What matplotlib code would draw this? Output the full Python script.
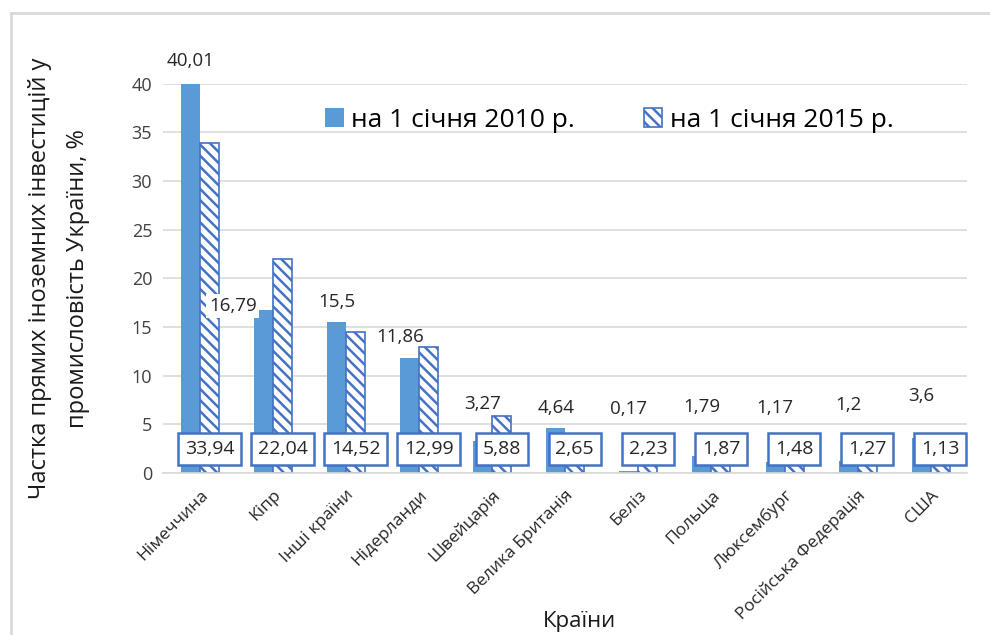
import numpy as np
import matplotlib.pyplot as plt
from matplotlib.lines import Line2D

plt.rcParams['font.family'] = ['Open Sans', 'DejaVu Sans']
plt.rcParams['hatch.linewidth'] = 1.8

countries = ['Німеччина', 'Кіпр', 'Інші країни', 'Нідерланди', 'Швейцарія',
             'Велика Британія', 'Беліз', 'Польща', 'Люксембург',
             'Російська Федерація', 'США']
share_2010 = [40.01, 16.79, 15.5, 11.86, 3.27, 4.64, 0.17, 1.79, 1.17, 1.2, 3.6]
share_2015 = [33.94, 22.04, 14.52, 12.99, 5.88, 2.65, 2.23, 1.87, 1.48, 1.27, 1.13]
yticks = [0, 5, 10, 15, 20, 25, 30, 35, 40]

# where Excel dropped the 2010 labels (y in data units, x shift in category units)
lbl10_y = [42.3, 17.2, 17.6, 14.0, 7.1, 6.7, 6.6, 6.8, 6.7, 7.0, 7.9]
lbl10_dx = [0, -0.42, 0, -0.13, 0, 0, 0, 0, 0, 0, 0]
lbl15_y = 2.45

blue = '#5B9BD5'
edge = '#4472C4'
w = 0.26

fig = plt.figure(figsize=(9.9, 6.35), dpi=100)
ax = fig.add_axes([0.165, 0.255, 0.812, 0.613])

x = np.arange(len(countries))
ax.bar(x - w / 2, share_2010, w, color=blue, label='на 1 січня 2010 р.', zorder=2)
ax.bar(x + w / 2, share_2015, w, color='white', edgecolor=edge, hatch='\\\\\\',
       linewidth=1.2, label='на 1 січня 2015 р.', zorder=2)

for i in range(len(countries)):
    txt = f'{share_2010[i]:g}'.replace('.', ',')
    bb = None
    if i == 1:
        bb = dict(boxstyle='square,pad=0.15', fc='white', ec='none')
    ax.text(x[i] - w / 2 + lbl10_dx[i], lbl10_y[i], txt, ha='center', va='center',
            fontsize=13.5, color='#262626', bbox=bb, zorder=4, clip_on=False)
    txt = f'{share_2015[i]:.2f}'.replace('.', ',')
    ax.text(x[i] + w / 2, lbl15_y, txt, ha='center', va='center', fontsize=14,
            color='#262626', zorder=4,
            bbox=dict(boxstyle='square,pad=0.35', fc='white', ec=edge, lw=1.8))

ax.set_xlim(-0.5, len(countries) - 0.5)
ax.set_ylim(0, 40)
ax.set_yticks(yticks)
ax.set_yticklabels([str(t) for t in yticks], fontsize=13, color='#404040')
ax.set_xticks(x)
ax.set_xticklabels(countries, rotation=45, ha='right', rotation_mode='anchor',
                   fontsize=12.5, color='#262626')
ax.tick_params(length=0, pad=8)
ax.tick_params(axis='x', pad=10)
ax.grid(axis='y', color='#D9D9D9', linewidth=1.2, zorder=0)
ax.set_axisbelow(True)
for s in ['top', 'right', 'left']:
    ax.spines[s].set_visible(False)
ax.spines['bottom'].set_color('#D9D9D9')
ax.spines['bottom'].set_linewidth(1.2)

ax.set_ylabel('Частка прямих іноземних інвестицій у\nпромисловість України, %',
              fontsize=17, color='#1a1a1a', labelpad=30, linespacing=1.75)
fig.text(0.585, 0.022, 'Країни', fontsize=16, color='#1a1a1a',
         ha='center', va='center')

ax.legend(loc='upper center', bbox_to_anchor=(0.555, 1.0), ncol=2, frameon=False,
          fontsize=19, handlelength=0.7, handleheight=0.7, handletextpad=0.3,
          columnspacing=2.6)

# outer chart frame (left and top edges only visible)
fig.add_artist(Line2D([0.011, 0.011], [0, 0.98], color='#D9D9D9', lw=2,
                      transform=fig.transFigure))
fig.add_artist(Line2D([0.011, 1.0], [0.98, 0.98], color='#D9D9D9', lw=2,
                      transform=fig.transFigure))

plt.savefig('out.png', dpi=100)
